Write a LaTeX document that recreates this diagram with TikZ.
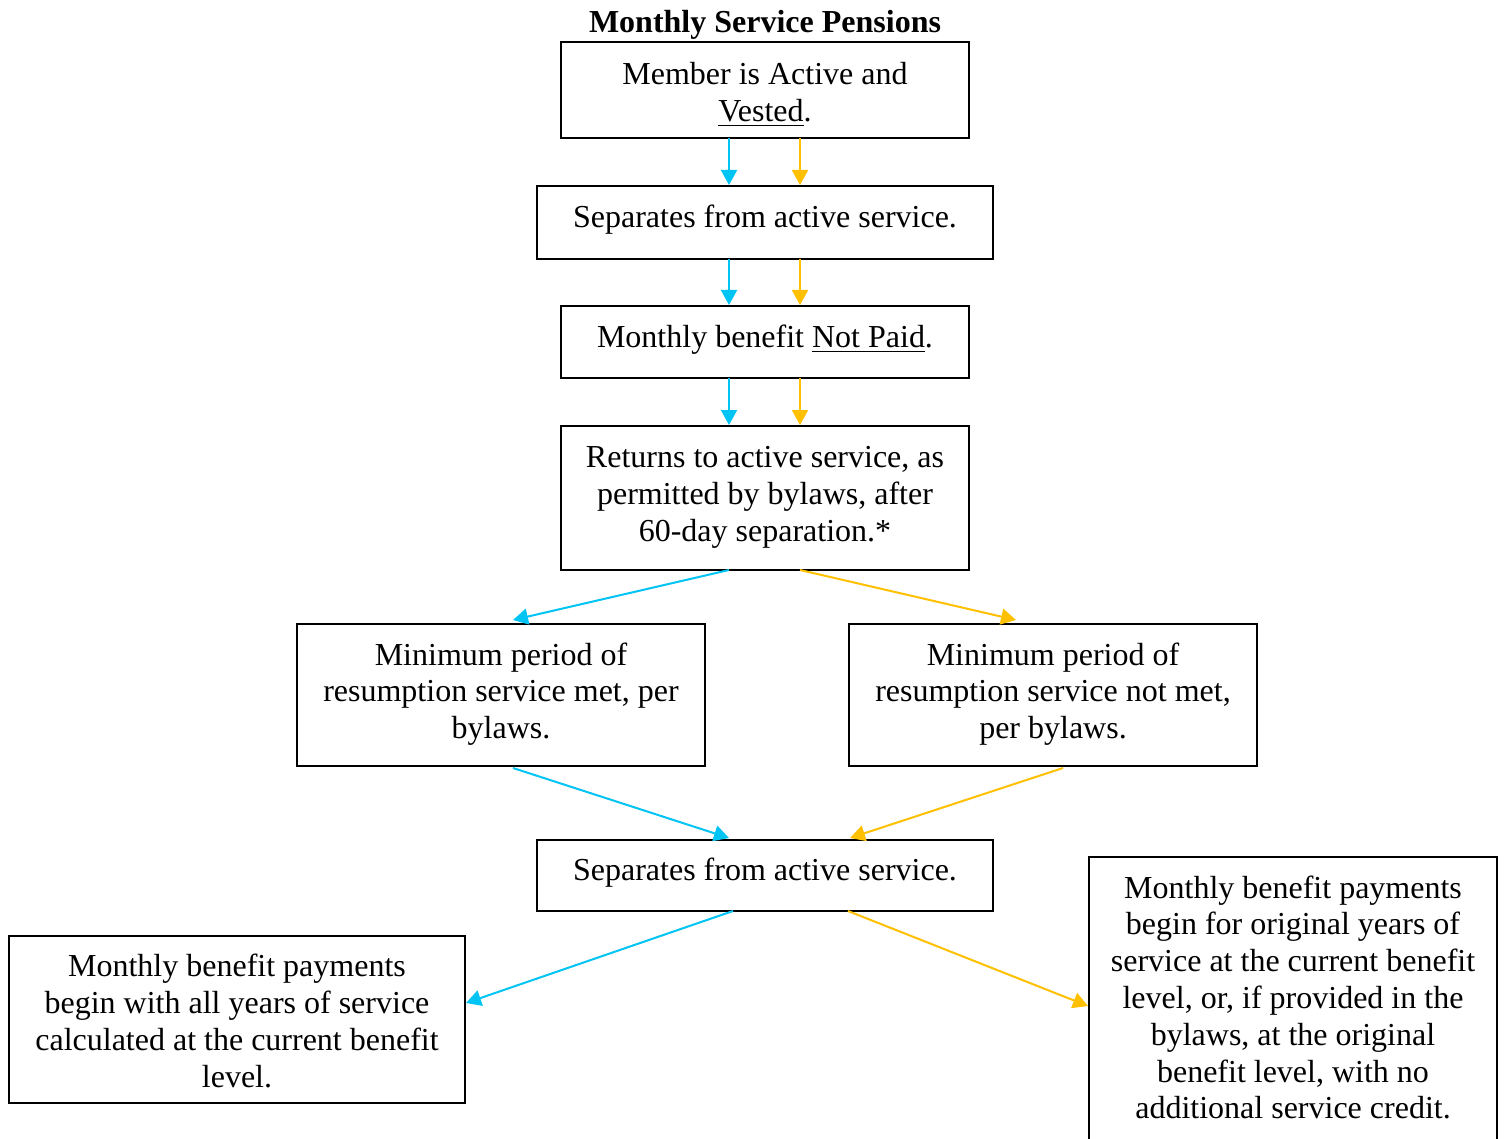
\documentclass[tikz,border=0pt]{standalone}
\usepackage{fontspec}
\setmainfont{Liberation Serif}
\usetikzlibrary{arrows.meta}
\definecolor{arrblue}{HTML}{00C4F4}
\definecolor{arrgold}{HTML}{FFC000}
\begin{document}
\begin{tikzpicture}[x=0.5pt,y=-0.5pt,
  box/.style={draw=black,line width=1pt,inner sep=0pt,outer sep=0pt},
  txt/.style={align=center,inner sep=0pt,font=\fontsize{16}{18.4}\selectfont},
  bl/.style={draw=arrblue,line width=1pt,-{Triangle[length=7.5pt,width=8pt]}},
  gd/.style={draw=arrgold,line width=1pt,-{Triangle[length=7.5pt,width=8pt]}}]
\clip (0,0) rectangle (1504,1139);
\useasboundingbox (0,0) rectangle (1504,1139);
\fill[white] (0,0) rectangle (1504,1139);

\node[txt,font=\fontsize{16}{18.4}\selectfont\bfseries] (title) at (765,25) {Monthly Service Pensions};

\node[box,minimum width=204pt,minimum height=48pt] (b1) at (765,90) {};
\node[txt] (t1) at (765,94.5) {Member is Active and\\\underline{Vested}.};

\node[box,minimum width=228pt,minimum height=36.5pt] (b2) at (765,222.5) {};
\node[txt] (t2) at (765,220) {Separates from active service.};

\node[box,minimum width=204pt,minimum height=36pt] (b3) at (765,342) {};
\node[txt] (t3) at (765,340) {Monthly benefit \underline{Not Paid}.};

\node[box,minimum width=204pt,minimum height=72pt] (b4) at (765,498) {};
\node[txt] (t4) at (765,497.5) {Returns to active service, as\\permitted by bylaws, after\\60-day separation.*};

\node[box,minimum width=204pt,minimum height=71pt] (b5) at (501,695) {};
\node[txt] (t5) at (501,694) {Minimum period of\\resumption service met, per\\bylaws.};

\node[box,minimum width=204pt,minimum height=71pt] (b6) at (1053,695) {};
\node[txt] (t6) at (1053,694) {Minimum period of\\resumption service not met,\\per bylaws.};

\node[box,minimum width=228pt,minimum height=35.5pt] (b7) at (765,875.5) {};
\node[txt] (t7) at (765,873) {Separates from active service.};

\node[box,minimum width=228pt,minimum height=83.5pt] (b8) at (237,1019.5) {};
\node[txt] (t8) at (237,1021) {Monthly benefit payments\\begin with all years of service\\calculated at the current benefit\\level.};

\node[box,anchor=north,minimum width=204pt,minimum height=160pt] (b9) at (1293,857) {};
\node[txt] (t9) at (1293,997.5) {Monthly benefit payments\\begin for original years of\\service at the current benefit\\level, or, if provided in the\\bylaws, at the original\\benefit level, with no\\additional service credit.};

% vertical arrows
\draw[bl] ([xshift=-18pt]b1.south) -- ([xshift=-18pt,yshift=0.5pt]b2.north);
\draw[gd] ([xshift=17.5pt]b1.south) -- ([xshift=17.5pt,yshift=0.5pt]b2.north);
\draw[bl] ([xshift=-18pt]b2.south) -- ([xshift=-18pt,yshift=0.5pt]b3.north);
\draw[gd] ([xshift=17.5pt]b2.south) -- ([xshift=17.5pt,yshift=0.5pt]b3.north);
\draw[bl] ([xshift=-18pt]b3.south) -- ([xshift=-18pt,yshift=0.5pt]b4.north);
\draw[gd] ([xshift=17.5pt]b3.south) -- ([xshift=17.5pt,yshift=0.5pt]b4.north);
% diagonal arrows
\draw[bl] ([xshift=-18pt]b4.south) -- ([xshift=6pt,yshift=2pt]b5.north);
\draw[gd] ([xshift=17.5pt]b4.south) -- ([xshift=-18.5pt,yshift=2pt]b6.north);
\draw[bl] ([xshift=6pt,yshift=-1pt]b5.south) -- ([xshift=-18pt,yshift=1pt]b7.north);
\draw[gd] ([xshift=5pt,yshift=-1pt]b6.south) -- ([xshift=42.5pt,yshift=1pt]b7.north);
\draw[bl] ([xshift=-16pt]b7.south) -- ([xshift=0.5pt,yshift=8.25pt]b8.east);
\draw[gd] ([xshift=41.5pt]b7.south) -- ([xshift=-0.5pt,yshift=-74.5pt]b9.north west);
\end{tikzpicture}
\end{document}
